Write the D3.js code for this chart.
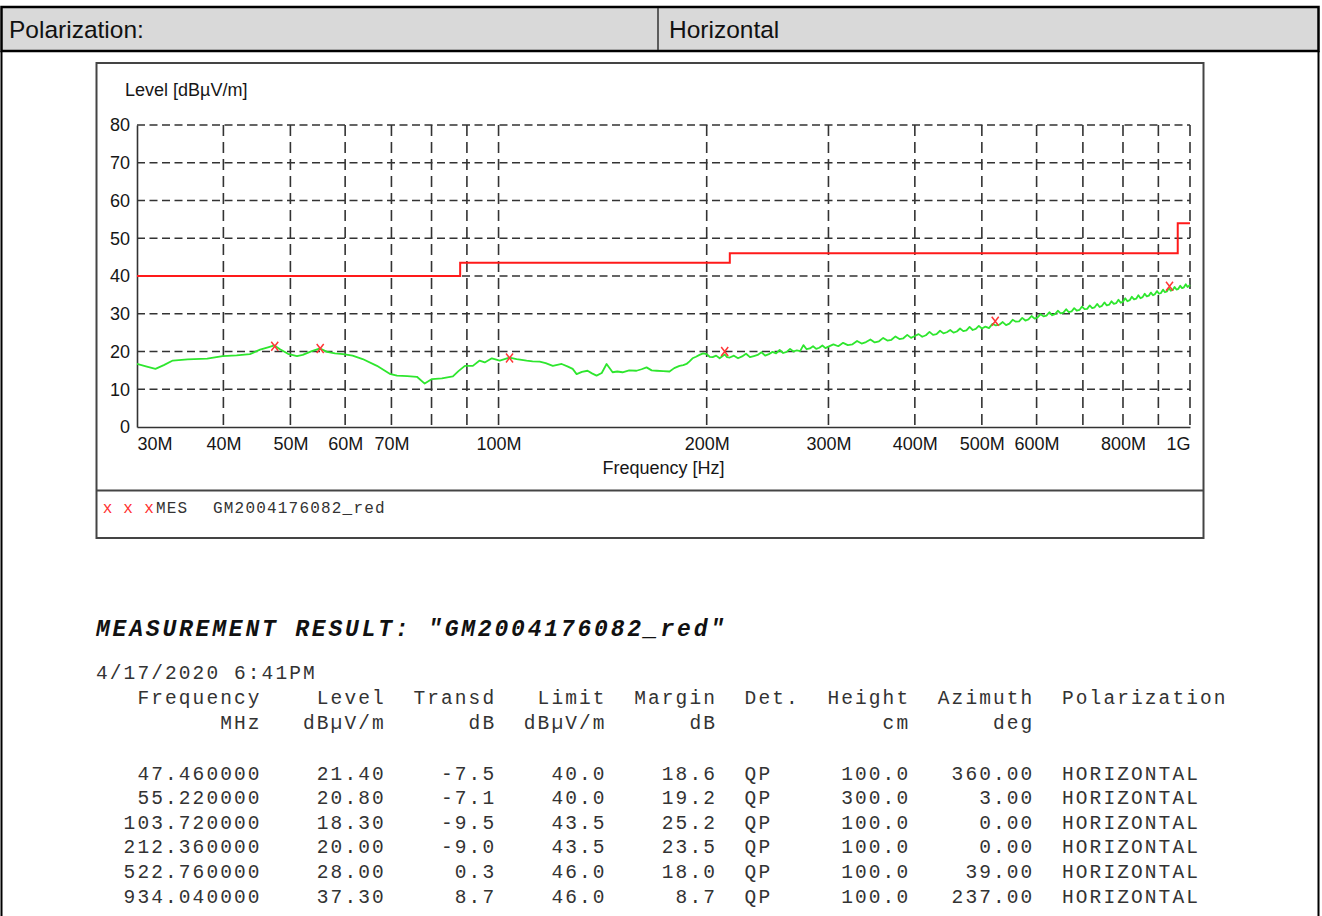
<!DOCTYPE html>
<html><head><meta charset="utf-8">
<script src="https://cdn.jsdelivr.net/npm/d3@7"></script>
<style>body{margin:0;background:#fff;} svg{display:block}</style>
</head><body>
<svg id="c" width="1322" height="916"></svg>
<script>
// ---------- DATA ----------
const headerLabel = "Polarization:";
const headerValue = "Horizontal";

// measured trace (MHz, dBµV/m)
const traceFreq = [30.0,31.0,31.9,32.8,33.8,35.5,37.9,39.9,41.8,43.7,45.2,46.4,47.4,48.3,49.6,51.1,52.1,53.7,55.2,56.5,58.0,59.6,61.5,63.6,66.7,69.6,71.3,73.8,76.2,78.2,80.1,82.8,85.9,87.5,89.4,91.8,93.9,95.5,97.8,100.4,103.7,106.2,109.8,112.0,114.7,117.0,119.8,123.4,126.0,128.0,129.7,132.0,134.5,136.5,138.6,141.0,143.3,146.2,148.5,151.1,154.5,158.3,161.0,163.7,166.5,169.3,173.0,176.7,179.5,182.7,185.0,187.0,188.9,190.8,193.0,195.3,197.6,200.0,202.0,204.0,206.4,208.8,210.9,212.4,214.0,
 216,219,222,225,228,231,234,237,240,243,246,249,252,255,258,261,264,267,270,273,276,279,282,285,288,291,294,297,300,
 305,310,315,320,325,330,335,340,345,350,355,360,365,370,375,380,385,390,395,400,405,410,415,420,425,430,435,440,445,450,455,460,465,470,475,480,485,490,495,500,
 506,512,518,524,530,536,542,548,554,560,566,572,578,584,590,596,602,608,614,620,626,632,638,644,650,656,662,668,674,680,686,692,698,704,710,716,722,728,734,740,746,752,758,764,770,776,782,788,794,800,806,812,818,824,830,836,842,848,854,860,866,872,878,884,890,896,902,908,914,920,926,932,938,944,950,956,962,968,974,980,986,992,998,1000];
const traceLevel = [16.7,16.0,15.4,16.4,17.6,17.9,18.1,18.8,19.0,19.3,20.5,21.1,21.6,20.6,19.4,18.8,19.1,20.1,20.8,19.9,19.5,19.3,18.9,18.0,16.2,14.1,13.6,13.5,13.3,11.5,12.7,12.9,13.4,14.8,16.2,16.2,17.6,17.1,18.2,17.6,18.4,18.0,17.6,17.4,17.3,16.9,16.2,16.7,16.0,15.4,14.0,14.6,14.9,14.2,13.6,14.3,16.7,14.5,14.7,14.5,15.0,14.9,15.3,15.8,15.0,14.9,14.8,14.7,15.6,16.2,16.4,16.7,17.4,18.2,18.6,19.1,19.5,19.3,18.6,18.5,18.9,18.2,18.8,19.2,18.5,
 18.4,18.9,18.2,18.7,19.4,18.5,18.8,19.1,19.8,18.9,19.3,19.9,19.5,20.4,19.6,19.9,20.7,20.0,20.3,20.1,21.7,20.6,20.8,21.4,20.7,21.0,21.6,20.9,21.3,
 21.9,21.4,22.3,21.7,21.9,22.8,22.1,22.5,23.2,22.4,22.7,23.6,22.9,23.1,24.0,23.3,23.5,24.4,23.6,24.1,24.6,23.9,24.3,25.2,24.4,24.6,25.5,24.8,25.1,25.7,25.0,25.3,26.1,25.4,25.6,26.5,25.7,26.0,26.8,26.1,
 26.6,26.2,27.3,26.9,27.1,27.8,27.0,27.4,28.4,27.9,28.0,28.9,28.2,28.5,29.4,28.7,29.0,29.9,29.3,29.5,30.4,29.6,29.9,30.8,30.1,30.3,31.2,30.4,30.6,31.5,30.8,31.0,31.9,31.2,31.3,32.2,31.5,31.7,32.6,31.8,32.1,33.0,32.2,32.4,33.3,32.6,32.8,33.7,32.9,33.2,34.1,33.3,33.6,34.5,33.8,34.0,34.9,34.1,34.4,35.3,34.6,34.8,35.6,34.9,35.2,36.0,35.3,35.5,36.4,35.7,35.9,36.8,36.1,36.3,37.1,36.4,36.6,37.4,36.8,37.0,37.8,37.1,37.5,37.3];

// limit line (step after)
const limitFreq = [30, 88, 216, 960, 1000];
const limitLevel = [40, 43.5, 46, 54, 54];

// final measurement results
const peakFreq = [47.46, 55.22, 103.72, 212.36, 522.76, 934.04];
const peakLevel = [21.40, 20.80, 18.30, 20.00, 28.00, 37.30];
const peakTransd = [-7.5, -7.1, -9.5, -9.0, 0.3, 8.7];
const peakLimit = [40.0, 40.0, 43.5, 43.5, 46.0, 46.0];
const peakMargin = [18.6, 19.2, 25.2, 23.5, 18.0, 8.7];
const peakDet = ["QP", "QP", "QP", "QP", "QP", "QP"];
const peakHeight = [100.0, 300.0, 100.0, 100.0, 100.0, 100.0];
const peakAzimuth = [360.00, 3.00, 0.00, 0.00, 39.00, 237.00];
const peakPol = ["HORIZONTAL", "HORIZONTAL", "HORIZONTAL", "HORIZONTAL", "HORIZONTAL", "HORIZONTAL"];

// axes
const xTickValues = [30, 40, 50, 60, 70, 100, 200, 300, 400, 500, 600, 800, 1000];
const xTickLabels = ["30M", "40M", "50M", "60M", "70M", "100M", "200M", "300M", "400M", "500M", "600M", "800M", "1G"];
const xGridValues = [40, 50, 60, 70, 80, 90, 100, 200, 300, 400, 500, 600, 700, 800, 900, 1000];
const yTickValues = [0, 10, 20, 30, 40, 50, 60, 70, 80];
const yAxisTitle = "Level [dBµV/m]";
const xAxisTitle = "Frequency [Hz]";
const legendName = "MES";
const legendFile = "GM2004176082_red";
const resultTitle = 'MEASUREMENT RESULT: "GM2004176082_red"';
const resultDate = "4/17/2020  6:41PM";
const colHead1 = ["Frequency", "Level", "Transd", "Limit", "Margin", "Det.", "Height", "Azimuth", "Polarization"];
const colHead2 = ["MHz", "dBµV/m", "dB", "dBµV/m", "dB", "", "cm", "deg", ""];

// ---------- DRAW ----------
const svg = d3.select("#c");
const SANS = "'Liberation Sans', Arial, sans-serif";
const MONO = "'Liberation Mono', 'Courier New', monospace";

// header bar
svg.append("rect").attr("x", 1.5).attr("y", 7).attr("width", 1317).attr("height", 44)
  .attr("fill", "#d9d9d9").attr("stroke", "#000").attr("stroke-width", 2.5);
svg.append("line").attr("x1", 658).attr("x2", 658).attr("y1", 8).attr("y2", 50)
  .attr("stroke", "#333").attr("stroke-width", 1.5);
svg.append("line").attr("x1", 1.5).attr("x2", 1.5).attr("y1", 51).attr("y2", 916).attr("stroke", "#000").attr("stroke-width", 2);
svg.append("line").attr("x1", 1318.5).attr("x2", 1318.5).attr("y1", 51).attr("y2", 916).attr("stroke", "#000").attr("stroke-width", 2);
svg.append("text").attr("x", 9).attr("y", 38).attr("font-family", SANS).attr("font-size", 24.5).attr("fill", "#111").text(headerLabel);
svg.append("text").attr("x", 669).attr("y", 38).attr("font-family", SANS).attr("font-size", 24.5).attr("fill", "#111").text(headerValue);

// chart box
svg.append("rect").attr("x", 96.5).attr("y", 63).attr("width", 1107).attr("height", 475)
  .attr("fill", "none").attr("stroke", "#444").attr("stroke-width", 2);
svg.append("line").attr("x1", 96.5).attr("x2", 1203.5).attr("y1", 490.5).attr("y2", 490.5)
  .attr("stroke", "#444").attr("stroke-width", 2);

const x = d3.scaleLog().domain([30, 1000]).range([137, 1190]);
const y = d3.scaleLinear().domain([0, 80]).range([427, 125]);

// grid
const grid = svg.append("g");
grid.selectAll("line.h").data(yTickValues.filter(v => v > 0)).join("line")
  .attr("x1", x(30)).attr("x2", x(1000)).attr("y1", d => y(d)).attr("y2", d => y(d))
  .attr("stroke", "#333").attr("stroke-width", 1.6).attr("stroke-dasharray", "8,4.5");
grid.selectAll("line.v").data(xGridValues).join("line")
  .attr("x1", d => x(d)).attr("x2", d => x(d)).attr("y1", y(80)).attr("y2", y(0))
  .attr("stroke", "#333").attr("stroke-width", 1.6).attr("stroke-dasharray", "11,6");

// axes
const gx = svg.append("g").attr("transform", `translate(0,${y(0)})`)
  .call(d3.axisBottom(x).tickValues(xTickValues).tickFormat((d, i) => xTickLabels[i]).tickSize(0));
gx.attr("font-family", SANS).attr("font-size", 18);
gx.select(".domain").attr("stroke", "#333").attr("stroke-width", 1.6);
gx.selectAll("text").attr("y", 23).attr("dy", null).attr("fill", "#161616")
  .attr("text-anchor", (d, i) => i === 0 ? "start" : (i === xTickValues.length - 1 ? "end" : "middle"));

const gy = svg.append("g").attr("transform", `translate(${x(30)},0)`)
  .call(d3.axisLeft(y).tickValues(yTickValues).tickSize(0).tickPadding(7));
gy.attr("font-family", SANS).attr("font-size", 18);
gy.select(".domain").attr("stroke", "#333").attr("stroke-width", 1.6);
gy.selectAll("text").attr("fill", "#161616");

svg.append("text").attr("x", 125).attr("y", 96).attr("font-family", SANS).attr("font-size", 18).attr("fill", "#161616").text(yAxisTitle);
svg.append("text").attr("x", (x(30) + x(1000)) / 2).attr("y", 474).attr("text-anchor", "middle")
  .attr("font-family", SANS).attr("font-size", 18).attr("fill", "#161616").text(xAxisTitle);

// limit
const limitPts = limitFreq.map((f, i) => [f, limitLevel[i]]);
svg.append("path").attr("d", d3.line().x(d => x(d[0])).y(d => y(d[1])).curve(d3.curveStepAfter)(limitPts))
  .attr("fill", "none").attr("stroke", "#ff1a1a").attr("stroke-width", 2);

// trace
const tracePts = traceFreq.map((f, i) => [f, traceLevel[i]]);
svg.append("path").attr("d", d3.line().x(d => x(d[0])).y(d => y(d[1]))(tracePts))
  .attr("fill", "none").attr("stroke", "#2ee62e").attr("stroke-width", 1.8).attr("stroke-linejoin", "round");

// markers
svg.append("g").selectAll("path").data(peakFreq).join("path")
  .attr("transform", (d, i) => `translate(${x(d)},${y(peakLevel[i])})`)
  .attr("d", "M-3.5,-4.5L3.5,4.5M3.5,-4.5L-3.5,4.5")
  .attr("stroke", "#ff3636").attr("stroke-width", 1.5).attr("fill", "none");

// legend
const lg = svg.append("g").attr("font-family", MONO).attr("font-size", 16);
lg.selectAll("text.x").data([107.5, 128, 149]).join("text").attr("x", d => d).attr("y", 513)
  .attr("text-anchor", "middle").attr("fill", "#ff3030").text("x");
lg.append("text").attr("x", 156).attr("y", 513).attr("fill", "#333").attr("letter-spacing", 1.2).text(legendName);
lg.append("text").attr("x", 213).attr("y", 513).attr("fill", "#333").attr("letter-spacing", 1.2).text(legendFile);

// results table
const X0 = 96, CW = 13.8, FS = 19.5, LS = CW - FS * 0.6;
svg.append("text").attr("x", X0).attr("y", 636).attr("font-family", MONO).attr("font-size", 23)
  .attr("font-weight", "bold").attr("font-style", "italic").attr("letter-spacing", 16.6 - 23 * 0.6)
  .attr("fill", "#111").style("white-space", "pre").text(resultTitle);

const tg = svg.append("g").attr("font-family", MONO).attr("font-size", FS).attr("fill", "#333")
  .attr("letter-spacing", LS).style("white-space", "pre");
function cell(str, col, right, yy) {
  const start = right ? col - str.length : col;
  tg.append("text").attr("x", X0 + start * CW).attr("y", yy).text(str);
}
cell(resultDate, 0, false, 679);
const colEnd = [12, 21, 29, 37, 45, 47, 59, 68, 70];
const colRight = [true, true, true, true, true, false, true, true, false];
colHead1.forEach((s, i) => cell(s, colEnd[i], colRight[i], 704));
colHead2.forEach((s, i) => { if (s) cell(s, colEnd[i], colRight[i], 729); });
peakFreq.forEach((f, r) => {
  const yy = 779.5 + r * 24.6;
  const vals = [f.toFixed(6), peakLevel[r].toFixed(2), peakTransd[r].toFixed(1), peakLimit[r].toFixed(1),
    peakMargin[r].toFixed(1), peakDet[r], peakHeight[r].toFixed(1), peakAzimuth[r].toFixed(2), peakPol[r]];
  vals.forEach((s, i) => cell(s, colEnd[i], colRight[i], yy));
});
</script>
</body></html>
